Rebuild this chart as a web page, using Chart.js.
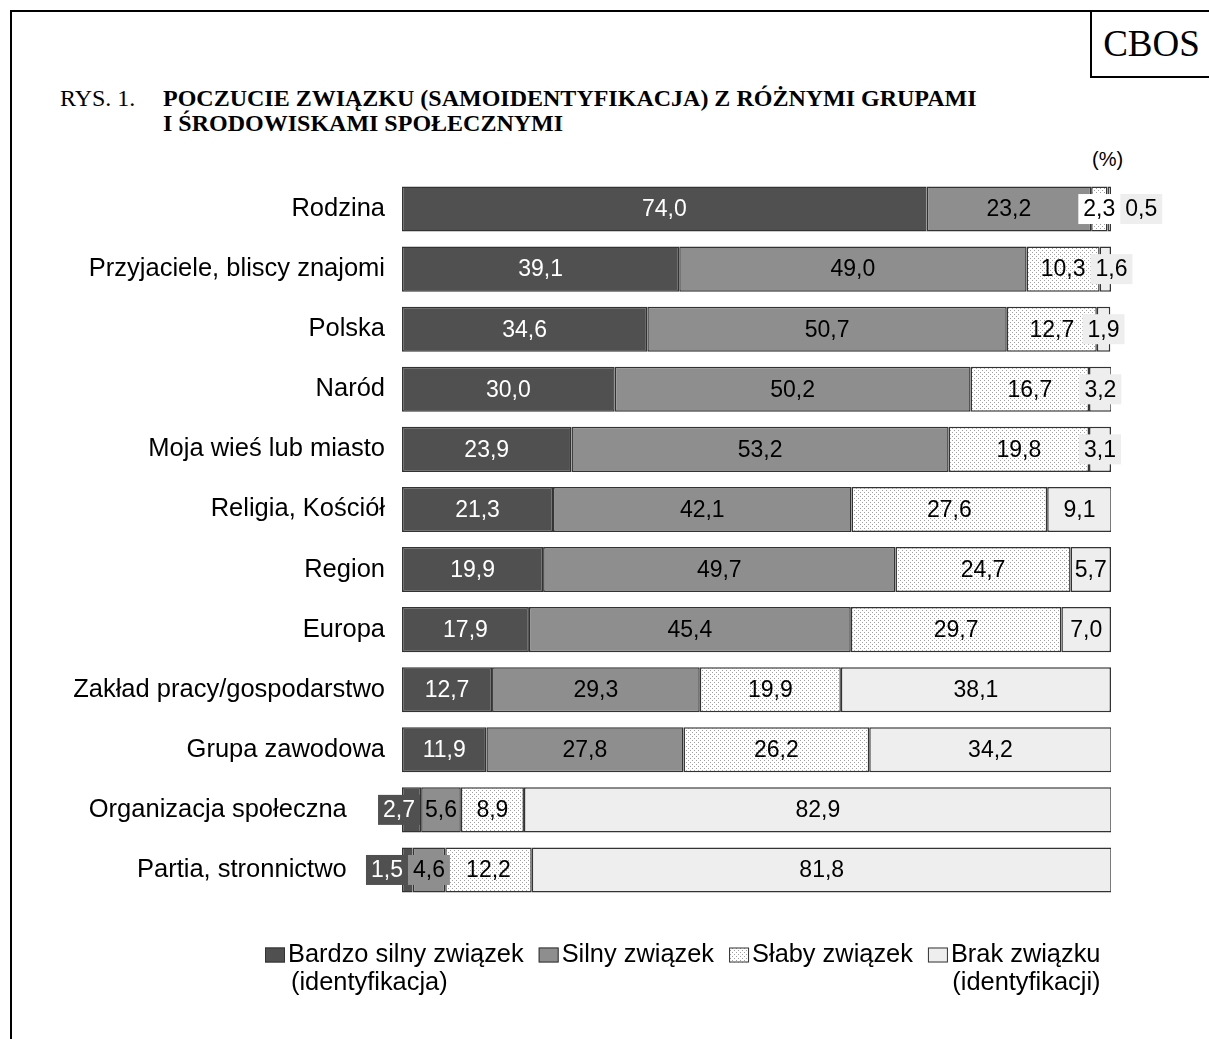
<!DOCTYPE html>
<html>
<head>
<meta charset="utf-8">
<script src="https://cdn.jsdelivr.net/npm/chart.js@4.4.1/dist/chart.umd.min.js"></script>
<style>
  html, body { margin: 0; padding: 0; background: #fff; }
  body { width: 1209px; height: 1039px; position: relative; overflow: hidden; }
  #chart { position: absolute; left: 0; top: 0; }
  .frame { position: absolute; left: 10px; top: 10px; width: 1300px; height: 1100px;
           border-left: 2px solid #000; border-top: 2px solid #000; }
  .cbos { position: absolute; left: 1090px; top: 12px; width: 119px; height: 64px;
          border-left: 2px solid #000; border-bottom: 2px solid #000;
          font: 37px "Liberation Serif", serif; line-height: 64px; text-align: center; }
  .title { position: absolute; top: 86px; font: 24px/25px "Liberation Serif", serif; color: #000; }
  .pct { position: absolute; left: 1092px; top: 148px; font: 20px "Liberation Sans", Arial, sans-serif; }
</style>
</head>
<body>
<div class="frame"></div>
<div class="cbos">CBOS</div>
<div class="title" style="left:60px">RYS. 1.</div>
<div class="title" style="left:163px; font-weight:bold">POCZUCIE ZWIĄZKU (SAMOIDENTYFIKACJA) Z RÓŻNYMI GRUPAMI<br>I ŚRODOWISKAMI SPOŁECZNYMI</div>
<div class="pct">(%)</div>
<canvas id="chart" width="1209" height="1039"></canvas>
<script>
const categories = ['Rodzina', 'Przyjaciele, bliscy znajomi', 'Polska', 'Naród', 'Moja wieś lub miasto',
  'Religia, Kościół', 'Region', 'Europa', 'Zakład pracy/gospodarstwo', 'Grupa zawodowa',
  'Organizacja społeczna', 'Partia, stronnictwo'];
const bardzoSilny = [74.0, 39.1, 34.6, 30.0, 23.9, 21.3, 19.9, 17.9, 12.7, 11.9, 2.7, 1.5];
const silny = [23.2, 49.0, 50.7, 50.2, 53.2, 42.1, 49.7, 45.4, 29.3, 27.8, 5.6, 4.6];
const slaby = [2.3, 10.3, 12.7, 16.7, 19.8, 27.6, 24.7, 29.7, 19.9, 26.2, 8.9, 12.2];
const brak = [0.5, 1.6, 1.9, 3.2, 3.1, 9.1, 5.7, 7.0, 38.1, 34.2, 82.9, 81.8];
const seriesNames = [['Bardzo silny związek', '(identyfikacja)'], ['Silny związek'], ['Słaby związek'],
  ['Brak związku', '(identyfikacji)']];

const SANS = '"Liberation Sans", Arial, sans-serif';

// dotted fill for "Słaby związek"
function dots() {
  const c = document.createElement('canvas');
  c.width = 4; c.height = 4;
  const g = c.getContext('2d');
  g.fillStyle = '#fff';
  g.fillRect(0, 0, 4, 4);
  g.fillStyle = '#a0a0a0';
  g.fillRect(0, 0, 1, 1);
  g.fillRect(2, 2, 1, 1);
  return g.createPattern(c, 'repeat');
}
const dotted = dots();

const fills = ['#505050', '#8e8e8e', dotted, '#eeeeee'];
const labelBoxes = ['#505050', '#8e8e8e', '#ffffff', '#eeeeee'];
const textColors = ['#ffffff', '#000000', '#000000', '#000000'];

function fmt(v) {
  return v.toFixed(1).replace('.', ',');
}

// value labels inside segments; narrow ones get a filled box and are pushed aside
const valueLabels = {
  id: 'valueLabels',
  afterDatasetsDraw(chart) {
    const ctx = chart.ctx;
    ctx.save();
    ctx.font = '23px ' + SANS;
    ctx.textAlign = 'center';
    ctx.textBaseline = 'middle';
    const pad = 5;
    chart.data.labels.forEach((_, i) => {
      const items = chart.data.datasets.map((ds, d) => {
        const el = chart.getDatasetMeta(d).data[i];
        const l = Math.min(el.x, el.base), r = Math.max(el.x, el.base);
        const text = fmt(ds.data[i]);
        const w = ctx.measureText(text).width;
        const c = (l + r) / 2;
        return { d, y: el.y, text, w, segW: r - l, fits: w + 4 < r - l, bl: c - w / 2 - pad, br: c + w / 2 + pad };
      });
      for (let k = items.length - 2; k >= 0; k--) {
        const a = items[k], b = items[k + 1];
        if (a.br > b.bl && a.segW < b.segW) {
          const s = a.br - b.bl;
          a.bl -= s; a.br -= s;
        }
      }
      for (let k = 1; k < items.length; k++) {
        const a = items[k - 1], b = items[k];
        if (b.bl < a.br) {
          const s = a.br - b.bl;
          b.bl += s; b.br += s;
        }
      }
      items.forEach(it => {
        if (!it.fits) {
          ctx.fillStyle = labelBoxes[it.d];
          ctx.fillRect(it.bl, it.y - 15, it.br - it.bl, 30);
        }
        ctx.fillStyle = textColors[it.d];
        ctx.fillText(it.text, (it.bl + it.br) / 2, it.y + 1);
      });
    });
    ctx.restore();
  }
};

// legend with wrapped names
const wrapLegend = {
  id: 'wrapLegend',
  afterDraw(chart) {
    const ctx = chart.ctx;
    ctx.save();
    ctx.font = '25.4px ' + SANS;
    ctx.textBaseline = 'middle';
    let x = 265;
    const y = 955, lh = 28, bw = 20, bh = 15;
    const n = chart.data.datasets.length;
    chart.data.datasets.forEach((ds, d) => {
      const lines = seriesNames[d];
      ctx.fillStyle = ds.backgroundColor;
      ctx.fillRect(x, y - bh / 2, bw, bh);
      ctx.strokeStyle = '#333';
      ctx.lineWidth = 1;
      ctx.strokeRect(x + 0.5, y - bh / 2 + 0.5, bw - 1, bh - 1);
      const tx = x + bw + 3;
      const w = ctx.measureText(lines[0]).width;
      ctx.fillStyle = '#000';
      ctx.textAlign = 'left';
      ctx.fillText(lines[0], tx, y);
      if (lines[1]) {
        if (d === n - 1) {
          ctx.textAlign = 'right';
          ctx.fillText(lines[1], tx + w, y + lh);
        } else {
          ctx.fillText(lines[1], tx + 3, y + lh);
        }
      }
      x = tx + w + 15;
    });
    ctx.restore();
  }
};

const values = [bardzoSilny, silny, slaby, brak];

new Chart(document.getElementById('chart'), {
  type: 'bar',
  data: {
    labels: categories,
    datasets: values.map((v, d) => ({
      label: seriesNames[d].join(' '),
      data: v,
      backgroundColor: fills[d],
      borderColor: '#333333',
      borderWidth: 1.5,
      borderSkipped: false,
      barPercentage: 0.75,
      categoryPercentage: 1.0
    }))
  },
  options: {
    indexAxis: 'y',
    responsive: false,
    animation: false,
    events: [],
    layout: { padding: { left: 0, right: 98, top: 179, bottom: 139 } },
    scales: {
      x: { stacked: true, min: 0, max: 100, display: false },
      y: {
        stacked: true,
        grid: { display: false, drawTicks: false },
        border: { display: false },
        afterFit(scale) { scale.width = 402; },
        ticks: {
          autoSkip: false,
          padding: 17,
          color: '#000',
          font: { family: SANS, size: 25.5 },
          callback(value, index) {
            const label = this.getLabelForValue(value);
            // first segment label spills left of the bar: leave room for it
            return bardzoSilny[index] < 5 ? label + '\u2003\u2002' : label;
          }
        }
      }
    },
    plugins: {
      legend: { display: false },
      tooltip: { enabled: false }
    }
  },
  plugins: [valueLabels, wrapLegend]
});
</script>
</body>
</html>
